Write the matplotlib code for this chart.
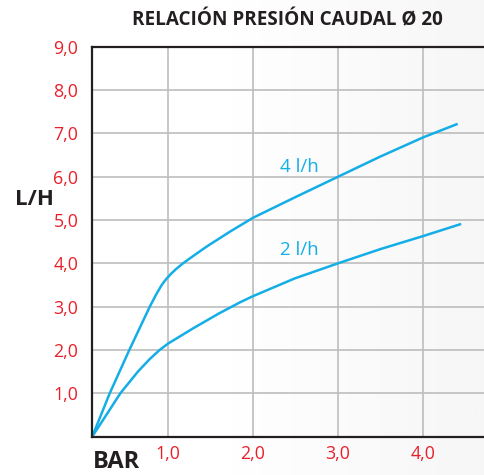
import numpy as np
import matplotlib
matplotlib.use('Agg')
from matplotlib import pyplot as plt

# values
flow4_x = [0.115, 0.32, 0.55, 0.79, 0.87, 0.93, 0.98, 1.04, 1.10, 1.18, 1.3,
           1.46, 1.73, 2.0, 2.49, 3.0, 3.49, 4.0, 4.39]
flow4_y = [0.0, 1.0, 2.0, 3.0, 3.3, 3.5, 3.63, 3.76, 3.87, 4.0, 4.17,
           4.39, 4.73, 5.05, 5.52, 6.0, 6.46, 6.91, 7.21]
flow2_x = [0.115, 0.445, 0.651, 0.79, 0.906, 1.0, 1.3, 1.6, 1.85, 2.0,
           2.49, 3.0, 3.5, 4.0, 4.43]
flow2_y = [0.0, 1.0, 1.5, 1.79, 2.0, 2.14, 2.5, 2.84, 3.1, 3.24,
           3.65, 4.0, 4.33, 4.63, 4.90]
series_labels = ['4 l/h', '2 l/h']
x_ticks = [1, 2, 3, 4]
x_ticklabels = ['1,0', '2,0', '3,0', '4,0']
y_ticks = [1, 2, 3, 4, 5, 6, 7, 8, 9]
y_ticklabels = ['1,0', '2,0', '3,0', '4,0', '5,0', '6,0', '7,0', '8,0', '9,0']

plt.rcParams['font.family'] = ['Open Sans', 'DejaVu Sans']

dark = '#231f20'
red = '#e8202a'
blue = '#14aee6'

fig = plt.figure(figsize=(4.85, 4.75), dpi=100)

# light grey gradient on the right side of the picture
bg = fig.add_axes([0, 0, 1, 1], zorder=-1)
grad = np.clip((np.linspace(0, 1, 400) - 0.45) / 0.55, 0, 1)
bg.imshow(grad[np.newaxis, :], aspect='auto', cmap='Greys', vmin=0, vmax=14,
          extent=[0, 1, 0, 1])
bg.axis('off')

ax = fig.add_axes([92.3 / 485, 38.5 / 475, 1 - 92.3 / 485, (436.5 - 46.8) / 475])
ax.patch.set_alpha(0)
ax.plot(flow4_x, flow4_y, color=blue, lw=1.8, solid_joinstyle='round')
ax.plot(flow2_x, flow2_y, color=blue, lw=1.8, solid_joinstyle='round')
ax.text(2.54, 6.22, series_labels[0], color=blue, fontsize=13.5, ha='center', va='center')
ax.text(2.54, 4.30, series_labels[1], color=blue, fontsize=13.5, ha='center', va='center')

ax.set_xlim(0.115, (485 - 82.5) / 85.2)
ax.set_ylim(0, 9)
ax.set_xticks(x_ticks)
ax.set_xticklabels(x_ticklabels)
ax.set_yticks(y_ticks)
ax.set_yticklabels(y_ticklabels)
ax.tick_params(length=0, labelcolor=red, labelsize=12.8)
ax.tick_params(axis='y', pad=10)
ax.tick_params(axis='x', pad=6)
ax.grid(True, color='#bdbdbd', lw=1.2)
ax.set_axisbelow(True)
for side in ['left', 'bottom', 'top']:
    ax.spines[side].set_color(dark)
    ax.spines[side].set_linewidth(1.6)
ax.spines['right'].set_visible(False)

fig.text(0.592, 0.958, 'RELACIÓN PRESIÓN CAUDAL Ø 20', color=dark, fontsize=13.6,
         fontweight='bold', ha='center', va='center')
fig.text(0.070, 0.579, 'L/H', color=dark, fontsize=16, fontweight='bold', ha='center', va='center')
fig.text(0.241, 0.028, 'BAR', color=dark, fontsize=17, fontweight='bold', ha='center', va='center')

fig.savefig('out.png', dpi=100)
